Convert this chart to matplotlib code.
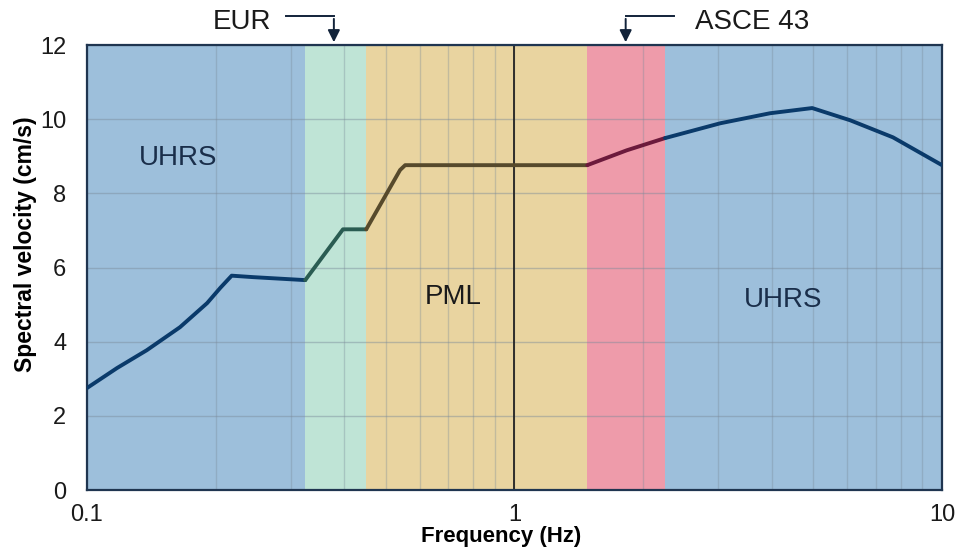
import matplotlib
matplotlib.use("Agg")
import matplotlib.pyplot as plt
import numpy as np

plt.rcParams['font.family'] = ['Liberation Sans', 'DejaVu Sans']

# ---- data ----
freq_uhrs_lo = [0.1, 0.1176, 0.138, 0.165, 0.191, 0.205, 0.218, 0.245, 0.324]
sv_uhrs_lo = [2.75, 3.29, 3.77, 4.39, 5.04, 5.45, 5.78, 5.74, 5.66]

freq_eur = [0.324, 0.397, 0.45]
sv_eur = [5.66, 7.03, 7.03]

freq_pml = [0.45, 0.54, 0.555, 1.0, 1.48]
sv_pml = [7.03, 8.63, 8.76, 8.76, 8.76]

freq_asce = [1.48, 1.83, 2.25]
sv_asce = [8.76, 9.16, 9.49]

freq_uhrs_hi = [2.25, 3.03, 3.96, 4.97, 6.1, 7.68, 10.0]
sv_uhrs_hi = [9.49, 9.89, 10.16, 10.30, 9.97, 9.51, 8.76]

band_edges = [0.1, 0.324, 0.45, 1.48, 2.25, 10.0]
band_colors = ['#9dbfdb', '#bfe4d6', '#e9d4a0', '#ee9baa', '#9dbfdb']
line_colors = ['#0a3a6a', '#2a5c52', '#574a2c', '#6c1a3c', '#0a3a6a']

labels = [('UHRS', 0.163, 8.95, '#1a2e4a'), ('PML', 0.72, 5.2, '#1a1a1a'),
          ('UHRS', 4.25, 5.12, '#1a2e4a')]

# ---- figure ----
fig = plt.figure(figsize=(9.58, 5.51), dpi=100)
ax = fig.add_axes([0.0908, 0.1107, 0.8925, 0.8076])
ax.set_xscale('log')
ax.set_xlim(0.1, 10)
ax.set_ylim(0, 12)

for i in range(len(band_colors)):
    ax.axvspan(band_edges[i], band_edges[i + 1], color=band_colors[i], lw=0, zorder=0)

# grid
ax.set_yticks(np.arange(0, 13, 2))
ax.grid(True, which='both', axis='x', color='#7a8a99', alpha=0.35, lw=1, zorder=1)
ax.grid(True, which='major', axis='y', color='#7a8a99', alpha=0.45, lw=1, zorder=1)
ax.axvline(1.0, color='#222222', lw=1.3, zorder=2)

segs = [(freq_uhrs_lo, sv_uhrs_lo), (freq_eur, sv_eur), (freq_pml, sv_pml),
        (freq_asce, sv_asce), (freq_uhrs_hi, sv_uhrs_hi)]
for (f, s), c in zip(segs, line_colors):
    ax.plot(f, s, color=c, lw=2.8, solid_capstyle='round', solid_joinstyle='round', zorder=3)

for txt, x, y, c in labels:
    ax.text(x, y, txt, fontsize=20, ha='center', va='center', color=c, zorder=4)

ax.set_xticks([0.1, 1, 10])
ax.set_xticklabels(['0.1', '1', '10'])
ax.xaxis.set_minor_locator(matplotlib.ticker.LogLocator(base=10, subs=np.arange(2, 10)))
ax.xaxis.set_minor_formatter(matplotlib.ticker.NullFormatter())
ax.tick_params(axis='both', which='both', length=0, labelsize=17, colors='#1a1a1a')
ax.tick_params(axis='x', pad=10)
ax.tick_params(axis='y', pad=15)

for sp in ax.spines.values():
    sp.set_color('#1f3550')
    sp.set_linewidth(1.6)

ax.set_xlabel('Frequency (Hz)', fontsize=16, fontweight='bold')
ax.set_ylabel('Spectral velocity (cm/s)', fontsize=16.5, fontweight='bold')
ax.xaxis.set_label_coords(0.484, -0.082)
ax.yaxis.set_label_coords(-0.058, 0.553)

# annotations above the axes
arrow_col = '#12233a'
for fx in [0.378, 1.82]:
    ax.annotate('', xy=(fx, 12.0), xytext=(fx, 12.78),
                arrowprops=dict(arrowstyle='-|>', color=arrow_col, lw=1.4, mutation_scale=18),
                annotation_clip=False)
ax.plot([0.292, 0.378], [12.78, 12.78], color=arrow_col, lw=1.4, clip_on=False)
ax.plot([1.82, 2.36], [12.78, 12.78], color=arrow_col, lw=1.4, clip_on=False)
ax.text(0.23, 12.61, 'EUR', fontsize=20, ha='center', va='center', color='#1a1a1a')
ax.text(3.6, 12.61, 'ASCE 43', fontsize=20, ha='center', va='center', color='#1a1a1a')

fig.savefig('out.png', dpi=100)
